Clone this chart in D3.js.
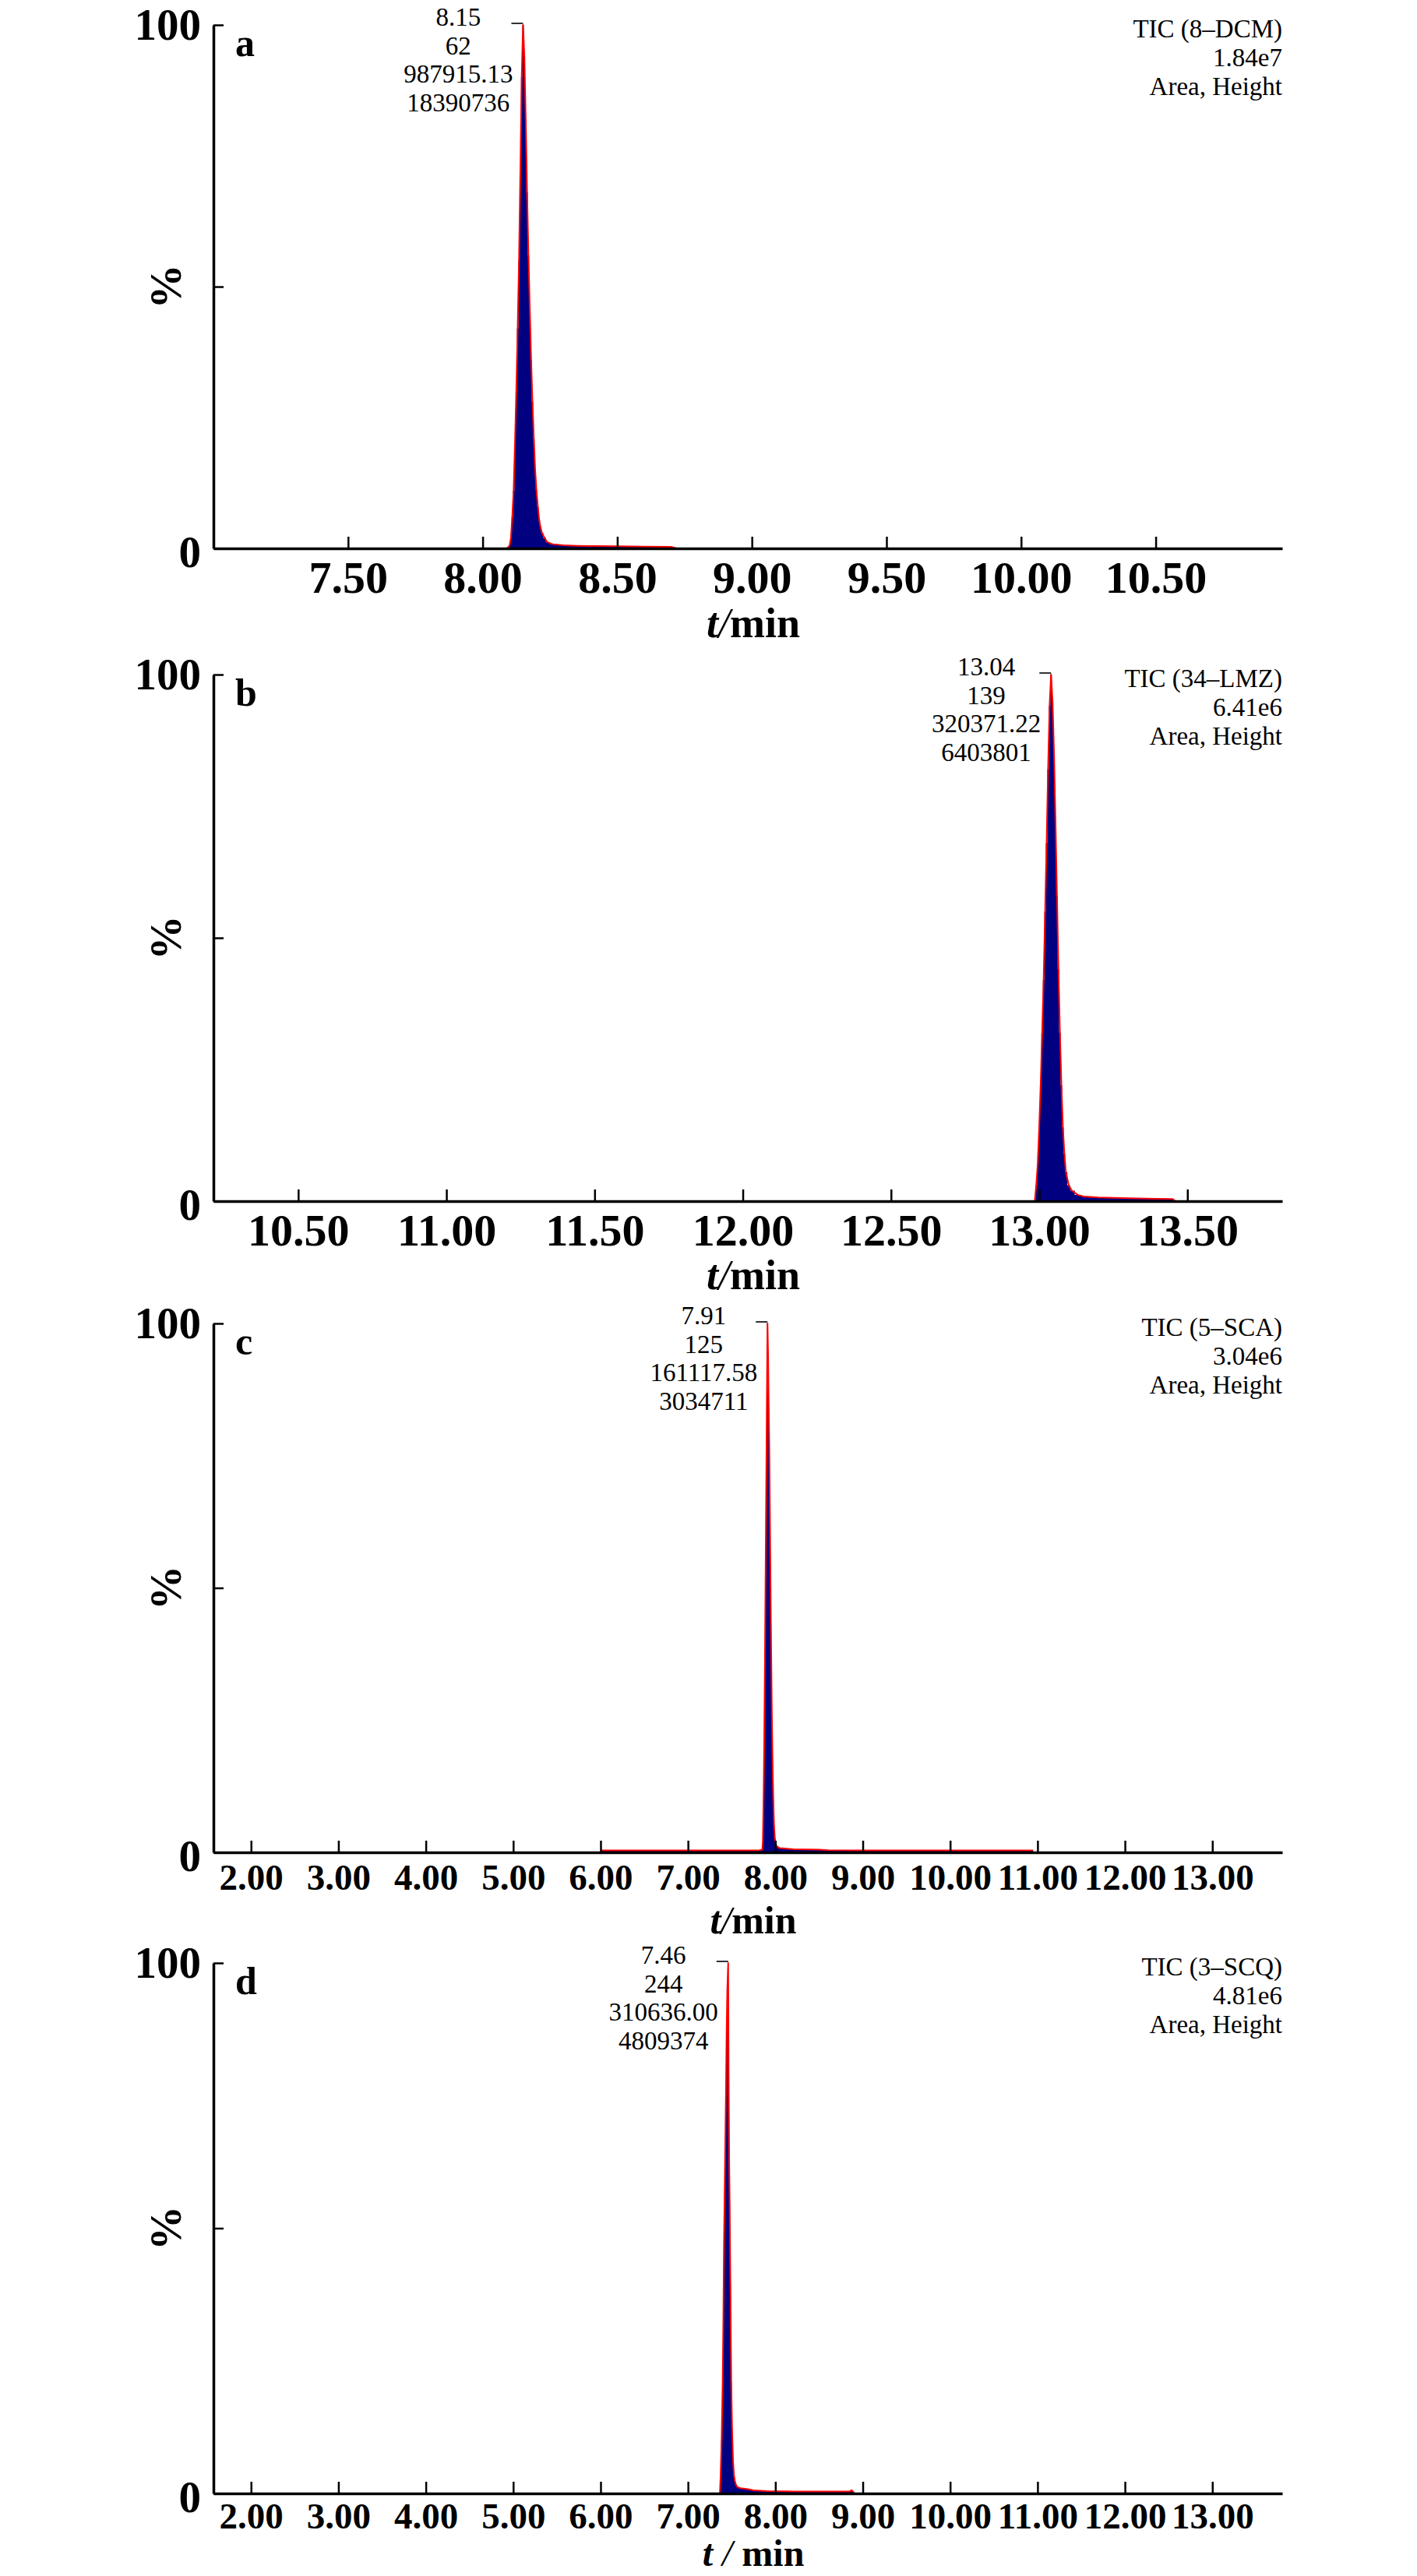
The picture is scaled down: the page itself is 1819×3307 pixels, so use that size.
<!DOCTYPE html>
<html>
<head>
<meta charset="utf-8">
<script src="https://cdn.jsdelivr.net/npm/d3@7/dist/d3.min.js"></script>
<style>
  html, body { margin: 0; padding: 0; background: #fff; }
  svg { display: block; }
  text { font-family: "Liberation Serif", "Times New Roman", serif; fill: #000; }
</style>
</head>
<body>
<svg id="chart" width="1819" height="3307"></svg>
<script>
// ---------------- DATA ----------------
const panelLetters   = ['a', 'b', 'c', 'd'];
const sampleNames    = ['TIC (8\u2013DCM)', 'TIC (34\u2013LMZ)', 'TIC (5\u2013SCA)', 'TIC (3\u2013SCQ)'];
const maxIntensities = ['1.84e7', '6.41e6', '3.04e6', '4.81e6'];
const peakRT         = [8.15, 13.04, 7.91, 7.46];
const peakScan       = ['62', '139', '125', '244'];
const peakArea       = ['987915.13', '320371.22', '161117.58', '310636.00'];
const peakHeight     = ['18390736', '6403801', '3034711', '4809374'];

const xDomainA = [7.00, 10.97];
const xDomainB = [10.214, 13.82];
const xDomainC = [1.57, 13.80];
const xDomainD = [1.57, 13.80];

const xTicksA = [7.5, 8.0, 8.5, 9.0, 9.5, 10.0, 10.5];
const xTicksB = [10.5, 11.0, 11.5, 12.0, 12.5, 13.0, 13.5];
const xTicksC = [2, 3, 4, 5, 6, 7, 8, 9, 10, 11, 12, 13];
const xTicksD = [2, 3, 4, 5, 6, 7, 8, 9, 10, 11, 12, 13];
const yTicks  = [0, 50, 100];
const yTickLabels = ['0', '', '100'];

// chromatogram traces: retention time (min) and relative abundance (%)
const timeA = [8.090, 8.100, 8.105, 8.110, 8.115, 8.120, 8.125, 8.130, 8.135, 8.140, 8.145, 8.150,
               8.155, 8.160, 8.165, 8.170, 8.175, 8.180, 8.185, 8.190, 8.195, 8.200, 8.205, 8.210,
               8.215, 8.220, 8.230, 8.240, 8.260, 8.300, 8.350, 8.400, 8.500, 8.600, 8.700, 8.720];
const pctA  = [0, 0.5, 2, 6, 11, 20, 30, 42, 55, 72, 90, 100,
               94, 82, 68, 56, 46, 36, 28, 21, 15, 11, 8, 5.5,
               4, 3, 2, 1.2, 0.8, 0.6, 0.5, 0.45, 0.4, 0.35, 0.3, 0];

const timeB = [12.985, 12.990, 12.995, 13.000, 13.005, 13.010, 13.015, 13.020, 13.025, 13.030, 13.035, 13.040,
               13.045, 13.050, 13.055, 13.060, 13.065, 13.070, 13.075, 13.080, 13.085, 13.090, 13.100, 13.110,
               13.130, 13.150, 13.200, 13.300, 13.400, 13.450, 13.460];
const pctB  = [0, 3, 7, 14, 22, 32, 42, 55, 68, 82, 94, 100,
               95, 85, 72, 58, 44, 32, 22, 14, 9, 5.5, 3, 2,
               1.2, 0.9, 0.7, 0.55, 0.45, 0.4, 0];

const timeC = [6.00, 7.80, 7.850, 7.857, 7.865, 7.872, 7.880, 7.888, 7.895, 7.903, 7.910,
               7.917, 7.924, 7.931, 7.938, 7.945, 7.952, 7.960, 7.968, 7.976, 7.985, 7.995,
               8.010, 8.050, 8.200, 8.500, 8.600, 9.000, 10.95];
const pctC  = [0.35, 0.35, 0.5, 2, 10, 20, 35, 52, 68, 86, 100,
               94, 84, 76, 63, 50, 38, 26, 17, 10, 5, 2.5,
               1.2, 0.8, 0.6, 0.5, 0.4, 0.35, 0.35];

const timeD = [7.365, 7.373, 7.385, 7.397, 7.405, 7.412, 7.420, 7.427, 7.435, 7.442, 7.450, 7.460,
               7.465, 7.472, 7.477, 7.485, 7.495, 7.505, 7.516, 7.526, 7.536, 7.550, 7.566, 7.600,
               7.685, 7.750, 7.900, 8.130, 8.200, 8.600, 8.850, 8.870, 8.890, 8.900];
const pctD  = [0, 3, 10, 21, 33, 47, 57, 66, 76, 87, 95, 100,
               80, 62, 55, 40, 21, 12, 6, 3.5, 2.4, 1.6, 1.2, 1.0,
               0.8, 0.6, 0.45, 0.4, 0.35, 0.35, 0.35, 0.6, 0.35, 0];

const xDomains = [xDomainA, xDomainB, xDomainC, xDomainD];
const xTicks   = [xTicksA, xTicksB, xTicksC, xTicksD];
const times    = [timeA, timeB, timeC, timeD];
const pcts     = [pctA, pctB, pctC, pctD];

// ---------------- LAYOUT ----------------
const plotLeft = 274, plotRight = 1646;
const panelTops    = [32, 866, 1699, 2520];
const panelBottoms = [704, 1542, 2378, 3201];
const xTickFont    = [58, 58, 47, 47];
const xTickPad     = [16, 16, 15, 12];
const xTitleOffset = [114, 113, 104, 93];
const xTitleFont   = [54, 54, 50, 48];

const svg = d3.select('#chart');
svg.append('rect').attr('width', 1819).attr('height', 3307).attr('fill', '#fff');

panelLetters.forEach((letter, i) => {
  const top = panelTops[i], bottom = panelBottoms[i];
  const x = d3.scaleLinear().domain(xDomains[i]).range([plotLeft, plotRight]);
  const y = d3.scaleLinear().domain([0, 100]).range([bottom, top]);
  const g = svg.append('g');

  const data = times[i].map((t, k) => [t, pcts[i][k]]);

  // filled trace (scan steps)
  g.append('path')
    .datum(data)
    .attr('fill', '#000080')
    .attr('stroke', 'none')
    .attr('d', d3.area().x(d => x(d[0])).y0(y(0)).y1(d => y(d[1])).curve(d3.curveStep));

  // red outline trace
  g.append('path')
    .datum(data)
    .attr('fill', 'none')
    .attr('stroke', '#ff0000')
    .attr('stroke-width', 2)
    .attr('stroke-linejoin', 'round')
    .attr('d', d3.line().x(d => x(d[0])).y(d => y(d[1])));

  // peak apex marker
  const px = x(peakRT[i]);
  g.append('line')
    .attr('x1', px - 15).attr('x2', px)
    .attr('y1', y(100) - 2).attr('y2', y(100) - 2)
    .attr('stroke', '#333').attr('stroke-width', 2);

  // x axis
  const xAxis = d3.axisBottom(x)
    .tickValues(xTicks[i])
    .tickFormat(d3.format('.2f'))
    .tickSizeInner(-15)
    .tickSizeOuter(0)
    .tickPadding(xTickPad[i]);
  const xg = g.append('g').attr('transform', `translate(0,${bottom})`).call(xAxis);
  xg.select('.domain').attr('stroke', '#000').attr('stroke-width', 3.5);
  xg.selectAll('.tick line').attr('stroke', '#000').attr('stroke-width', 2.5);
  xg.selectAll('.tick text')
    .attr('font-family', '"Liberation Serif", "Times New Roman", serif')
    .attr('font-size', xTickFont[i])
    .attr('font-weight', 'bold')
    .attr('fill', '#000');

  // y axis
  const yAxis = d3.axisLeft(y)
    .tickValues(yTicks)
    .tickFormat((d, k) => yTickLabels[k])
    .tickSizeInner(-13)
    .tickSizeOuter(0)
    .tickPadding(16);
  const yg = g.append('g').attr('transform', `translate(${plotLeft},0)`).call(yAxis);
  yg.select('.domain').attr('stroke', '#000').attr('stroke-width', 3.5);
  yg.selectAll('.tick line').attr('stroke', '#000').attr('stroke-width', 2.5);
  yg.selectAll('.tick text')
    .attr('font-family', '"Liberation Serif", "Times New Roman", serif')
    .attr('font-size', 57)
    .attr('font-weight', 'bold')
    .attr('fill', '#000')
    .attr('dy', (d) => d === 0 ? '0.42em' : '0.32em');

  // y title
  g.append('text')
    .attr('transform', `translate(212,${(top + bottom) / 2}) rotate(-90)`)
    .attr('text-anchor', 'middle')
    .attr('dy', '0.35em')
    .attr('font-size', 57)
    .attr('font-weight', 'bold')
    .text('%');

  // x title
  const xt = g.append('text')
    .attr('x', 967)
    .attr('y', bottom + xTitleOffset[i])
    .attr('text-anchor', 'middle')
    .attr('font-size', xTitleFont[i])
    .attr('font-weight', 'bold');
  xt.append('tspan').attr('font-style', 'italic').text('t');
  xt.append('tspan').attr('font-style', 'italic').attr('font-weight', 'normal').text(i === 3 ? ' / ' : '/');
  xt.append('tspan').text('min');

  // panel letter
  g.append('text')
    .attr('x', plotLeft + 28)
    .attr('y', top + 40)
    .attr('font-size', 50)
    .attr('font-weight', 'bold')
    .text(letter);

  // header (top right)
  [sampleNames[i], maxIntensities[i], 'Area, Height'].forEach((s, k) => {
    g.append('text')
      .attr('x', plotRight)
      .attr('y', top + 16 + k * 37)
      .attr('text-anchor', 'end')
      .attr('font-size', 33)
      .text(s);
  });

  // peak annotation
  const lines = [peakRT[i].toFixed(2), peakScan[i], peakArea[i], peakHeight[i]];
  const ann = g.append('g');
  const texts = lines.map((s, k) => ann.append('text')
      .attr('y', top + 1 + k * 36.7)
      .attr('text-anchor', 'middle')
      .attr('font-size', 33)
      .text(s));
  const maxW = d3.max(texts, t => t.node().getComputedTextLength());
  const cx = px - 13 - maxW / 2;
  texts.forEach(t => t.attr('x', cx));
});
</script>
</body>
</html>
